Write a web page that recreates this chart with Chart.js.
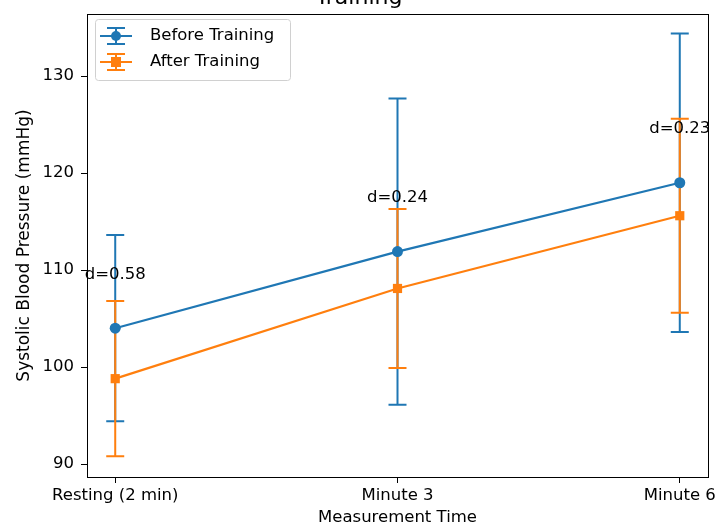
<!DOCTYPE html>
<html>
<head>
<meta charset="utf-8">
<script src="https://cdn.jsdelivr.net/npm/chart.js@4/dist/chart.umd.min.js"></script>
<style>
  html, body { margin: 0; padding: 0; background: #fff; }
  canvas { display: block; }
</style>
</head>
<body>
<canvas id="chart" width="718" height="528"></canvas>
<script>
const categories = ["Resting (2 min)", "Minute 3", "Minute 6"];
const beforeMeans = [104.0, 111.9, 119.0];
const beforeErrors = [9.6, 15.8, 15.4];
const afterMeans = [98.8, 108.1, 115.6];
const afterErrors = [8.0, 8.2, 10.0];
const effectSizes = [0.58, 0.24, 0.23];
const yTicks = [90, 100, 110, 120, 130];
const titleText = "Training";

const BLUE = "#1f77b4";
const ORANGE = "#ff7f0e";
const FONT = "DejaVu Sans";
const TXT = 16.5;

const series = [
  { label: "Before Training", means: beforeMeans, errors: beforeErrors, color: BLUE, marker: "circle" },
  { label: "After Training", means: afterMeans, errors: afterErrors, color: ORANGE, marker: "rect" }
];

function drawErrorBar(ctx, px, top, bottom, color) {
  ctx.strokeStyle = color;
  ctx.lineWidth = 2;
  ctx.beginPath();
  ctx.moveTo(px, top);
  ctx.lineTo(px, bottom);
  ctx.moveTo(px - 9, top);
  ctx.lineTo(px + 9, top);
  ctx.moveTo(px - 9, bottom);
  ctx.lineTo(px + 9, bottom);
  ctx.stroke();
}

const errorBars = {
  id: "errorBars",
  beforeDatasetsDraw(chart) {
    const { ctx, scales: { x, y } } = chart;
    ctx.save();
    series.forEach((s) => {
      s.means.forEach((m, i) => {
        const px = x.getPixelForValue(i);
        drawErrorBar(ctx, px, y.getPixelForValue(m + s.errors[i]), y.getPixelForValue(m - s.errors[i]), s.color);
      });
    });
    ctx.restore();
  }
};

const extras = {
  id: "extras",
  afterDraw(chart) {
    const { ctx, chartArea: a, scales: { x, y } } = chart;
    ctx.save();
    // axes box
    ctx.strokeStyle = "#000";
    ctx.lineWidth = 1;
    ctx.strokeRect(a.left + 0.5, a.top + 0.5, a.right - a.left, a.bottom - a.top);

    // effect size labels, sitting just above mean + 5
    ctx.fillStyle = "#000";
    ctx.font = `${TXT}px "${FONT}"`;
    ctx.textAlign = "center";
    ctx.textBaseline = "alphabetic";
    effectSizes.forEach((d, i) => {
      ctx.fillText(`d=${d.toFixed(2)}`, x.getPixelForValue(i), y.getPixelForValue(beforeMeans[i] + 5) - 1);
    });

    // title (first line is cut off in the original)
    ctx.font = `22px "${FONT}"`;
    ctx.fillText(titleText, chart.width / 2, 4);

    // legend
    const lx = a.left + 8, ly = a.top + 5, lw = 195, lh = 61;
    ctx.fillStyle = "rgba(255,255,255,0.8)";
    ctx.strokeStyle = "#d0d0d0";
    ctx.lineWidth = 1;
    ctx.beginPath();
    ctx.roundRect(lx + 0.5, ly + 0.5, lw, lh, 3);
    ctx.fill();
    ctx.stroke();
    series.forEach((s, k) => {
      const cy = ly + 17 + k * 26;
      const cx = lx + 21;
      ctx.strokeStyle = s.color;
      ctx.lineWidth = 2;
      ctx.beginPath();
      ctx.moveTo(cx - 16, cy);
      ctx.lineTo(cx + 16, cy);
      ctx.stroke();
      drawErrorBar(ctx, cx, cy - 8, cy + 8, s.color);
      ctx.fillStyle = s.color;
      ctx.beginPath();
      if (s.marker === "circle") ctx.arc(cx, cy, 5, 0, Math.PI * 2);
      else ctx.rect(cx - 5, cy - 5, 10, 10);
      ctx.fill();
      ctx.fillStyle = "#000";
      ctx.font = `${TXT}px "${FONT}"`;
      ctx.textAlign = "left";
      ctx.textBaseline = "middle";
      ctx.fillText(s.label, lx + 55, cy);
    });
    ctx.restore();
  }
};

const tickFont = { family: FONT, size: TXT };

new Chart(document.getElementById("chart"), {
  type: "line",
  data: {
    datasets: series.map((s) => ({
      label: s.label,
      data: s.means.map((m, i) => ({ x: i, y: m })),
      borderColor: s.color,
      backgroundColor: s.color,
      borderWidth: 2.2,
      pointStyle: s.marker,
      pointRadius: s.marker === "circle" ? 5.5 : 6.5,
      pointBorderWidth: 0,
      tension: 0
    }))
  },
  options: {
    responsive: false,
    animation: false,
    layout: { padding: { top: 14, right: 10, left: 0, bottom: 0 } },
    plugins: {
      legend: { display: false },
      tooltip: { enabled: false }
    },
    scales: {
      x: {
        type: "linear",
        min: -0.1,
        max: 2.1,
        afterBuildTicks: (axis) => { axis.ticks = categories.map((_, i) => ({ value: i })); },
        afterFit: (axis) => { axis.height = 51; axis.paddingLeft = 0; axis.paddingRight = 0; },
        ticks: { callback: (v) => categories[v] ?? "", color: "#000", font: tickFont, padding: 3, maxRotation: 0, autoSkip: false },
        grid: { drawOnChartArea: false, tickLength: 6, color: "#000" },
        border: { display: false },
        title: { display: true, text: "Measurement Time", color: "#000", font: tickFont, padding: { top: 0, bottom: 0 } }
      },
      y: {
        min: 88.66,
        max: 136.4,
        afterBuildTicks: (axis) => { axis.ticks = yTicks.map((v) => ({ value: v })); },
        afterFit: (axis) => { axis.width = 87; axis.paddingTop = 0; axis.paddingBottom = 0; },
        ticks: { color: "#000", font: tickFont, padding: 7 },
        grid: { drawOnChartArea: false, tickLength: 6, color: "#000" },
        border: { display: false },
        title: { display: true, text: "Systolic Blood Pressure (mmHg)", color: "#000", font: { family: FONT, size: 17 }, padding: { top: 14, bottom: 0 } }
      }
    }
  },
  plugins: [errorBars, extras]
});
</script>
</body>
</html>
